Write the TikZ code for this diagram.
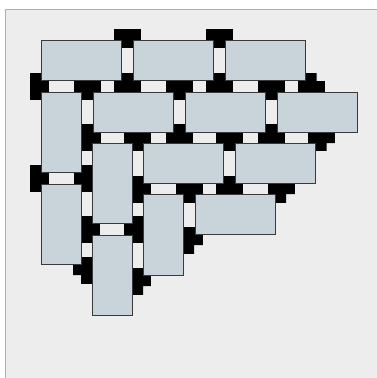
\documentclass[tikz,border=0pt]{standalone}
\definecolor{bgc}{HTML}{ECEDEC}
\definecolor{tilec}{HTML}{C9D3DA}
\definecolor{edgec}{HTML}{3A3A3A}
\definecolor{framec}{HTML}{F29A78}
\tikzset{
  tile/.style={fill=tilec, draw=edgec, line width=0.9pt},
  joint/.style={fill=black}
}
\def\tiles{41/40/121/80, 133/40/213.5/80, 225.5/40/305.5/80,
  41/92/81/172, 93/92/173/132, 185/92/265/132, 277/92/357/132,
  92/143.5/132/223, 143/143.5/223/183, 235.5/143.5/315.5/183,
  41/184.5/81/264, 143/194.5/183/275, 195/194/275/234, 92/235/132/315}
\def\joints{127/34, 219.5/34,
  35/86, 87/86, 127/86, 179/86, 219.5/86, 271/86, 311.5/86,
  87/137.75, 137.5/137.75, 179/137.75, 229.5/137.75, 271/137.75, 321.5/137.75,
  35/178, 87/178,
  137.5/189, 189/189, 229.5/189, 281/189,
  86.5/229, 137.5/229, 189/240, 86.5/270, 137.5/281}
\begin{document}
\begin{tikzpicture}[x=1pt,y=-1pt]
\useasboundingbox (0,0) rectangle (377,378);
\fill[white] (0,0) rectangle (377,378);
\fill[bgc] (5.5,9.5) rectangle (377,378);
\draw[framec, line width=1.2pt] (5.5,378) -- (5.5,9.5) -- (377,9.5);
\begin{scope}
  \clip \foreach \a/\b/\c/\d in \tiles {(\a-11,\b-11) rectangle (\c+11,\d+11)};
  \foreach \x/\y in \joints {
    \fill[joint] (\x-13.5,\y-13.5) rectangle (\x+13.5,\y+13.5);
  }
\end{scope}
\foreach \a/\b/\c/\d in \tiles {
  \draw[tile] (\a,\b) rectangle (\c,\d);
}
\end{tikzpicture}
\end{document}
